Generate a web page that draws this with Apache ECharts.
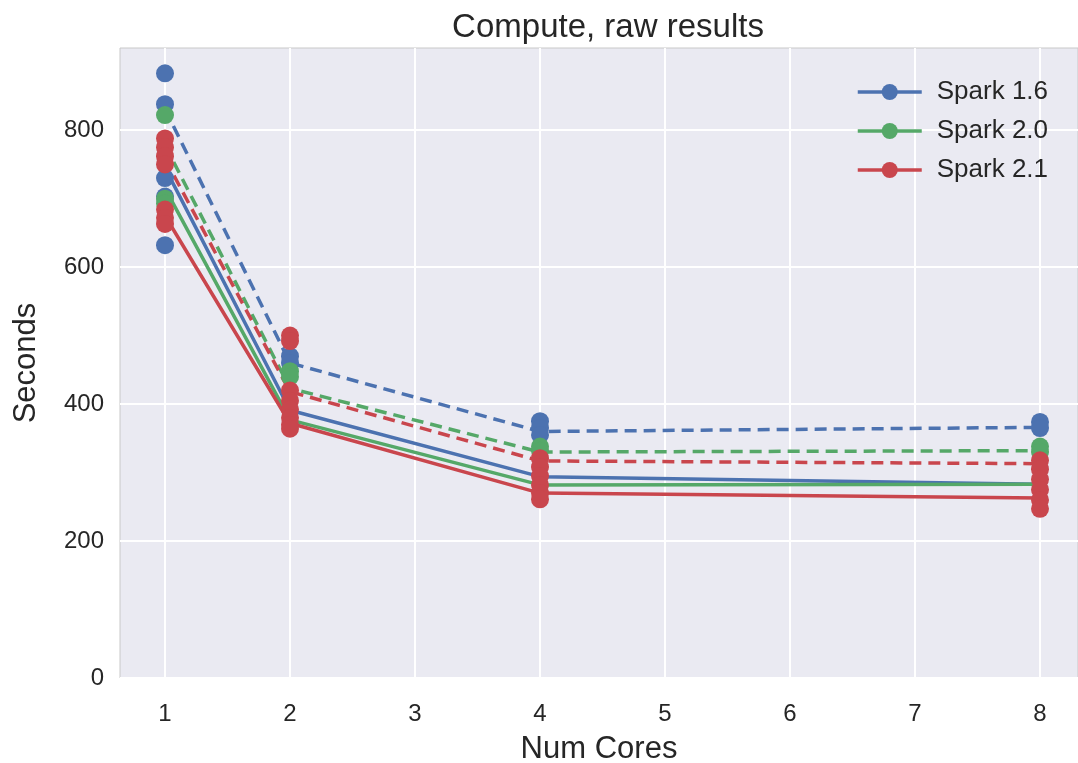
<!DOCTYPE html>
<html>
<head>
<meta charset="utf-8">
<script src="https://cdn.jsdelivr.net/npm/echarts@6/dist/echarts.min.js"></script>
<style>
  html, body { margin: 0; padding: 0; background: #fff; }
  #main { width: 1078px; height: 763px; }
</style>
</head>
<body>
<div id="main"></div>
<script>
// 数据
var cores = [1, 2, 4, 8];
var versions = ['Spark 1.6', 'Spark 2.0', 'Spark 2.1'];
var colors = ['#4C72B0', '#55A868', '#C9464D'];
var xTicks = [1, 2, 3, 4, 5, 6, 7, 8];
var yTicks = [0, 200, 400, 600, 800];

// raw runs per core count
var runs16 = [[883, 838, 730, 703, 632], [470, 460], [375, 365, 355], [374, 365]];
var runs20 = [[822, 700, 693], [448, 440], [338, 332], [338, 330]];
var runs21 = [[788, 775, 762, 750, 684, 672, 663], [500, 492, 420, 405, 392, 380, 370, 364],
              [321, 308, 295, 282, 270, 261], [318, 305, 290, 275, 260, 247]];

// solid / dashed lines
var solid16 = [745, 391, 294, 283];
var solid20 = [715, 377, 282, 283];
var solid21 = [675, 372, 270, 263];
var dash16 = [831, 460, 360, 366];
var dash20 = [778, 423, 330, 332];
var dash21 = [758, 418, 317, 313];

var runs = [runs16, runs20, runs21];
var solids = [solid16, solid20, solid21];
var dashes = [dash16, dash20, dash21];

function pairs(vals) {
    var res = [];
    for (var i = 0; i < cores.length; i++) {
        res.push([cores[i], vals[i]]);
    }
    return res;
}

function points(r) {
    var res = [];
    for (var i = 0; i < cores.length; i++) {
        for (var j = 0; j < r[i].length; j++) {
            res.push([cores[i], r[i][j]]);
        }
    }
    return res;
}

var font = 'Liberation Sans, Arial, sans-serif';
var textColor = '#262626';

var series = [];
for (var k = 0; k < versions.length; k++) {
    series.push({
        name: versions[k],
        type: 'line',
        data: pairs(solids[k]),
        symbol: 'circle',
        showSymbol: false,
        color: colors[k],
        lineStyle: {width: 3.5, color: colors[k]},
        z: 2,
        silent: true
    });
    series.push({
        name: versions[k] + ' dashed',
        type: 'line',
        data: pairs(dashes[k]),
        symbol: 'none',
        color: colors[k],
        lineStyle: {width: 3.5, color: colors[k], type: [12, 7]},
        z: 2,
        silent: true
    });
}
for (var k = 0; k < versions.length; k++) {
    series.push({
        name: versions[k] + ' runs',
        type: 'scatter',
        data: points(runs[k]),
        symbol: 'circle',
        symbolSize: 18,
        itemStyle: {color: colors[k], opacity: 1},
        z: 3 + k,
        silent: true
    });
}

var chart = echarts.init(document.getElementById('main'));
var option = {
    animation: false,
    backgroundColor: '#ffffff',
    title: {
        text: 'Compute, raw results',
        left: 603,
        top: 6,
        textAlign: 'center',
        textStyle: {fontFamily: font, fontSize: 33, fontWeight: 'normal', color: textColor}
    },
    legend: {
        data: versions,
        orient: 'vertical',
        left: 851,
        top: 74,
        itemWidth: 64,
        itemHeight: 20,
        itemGap: 13,
        lineStyle: {width: 3.5},
        textStyle: {fontFamily: font, fontSize: 26, color: textColor, padding: [0, 0, 0, 10]}
    },
    grid: {
        left: 120,
        right: 0,
        top: 48,
        bottom: 85,
        outerBoundsMode: 'none',
        containLabel: false,
        show: true,
        backgroundColor: '#EAEAF2',
        borderColor: '#c8c8c8',
        borderWidth: 1
    },
    xAxis: {
        type: 'value',
        min: 0.64,
        max: 8.304,
        name: 'Num Cores',
        nameLocation: 'middle',
        nameGap: 56,
        nameTextStyle: {fontFamily: font, fontSize: 31, color: textColor},
        axisLine: {show: false},
        axisTick: {show: false, customValues: xTicks},
        axisLabel: {customValues: xTicks, fontFamily: font, fontSize: 24, color: textColor, margin: 24},
        splitLine: {show: true, lineStyle: {color: '#ffffff', width: 2}}
    },
    yAxis: {
        type: 'value',
        min: 0,
        max: 920,
        name: 'Seconds',
        nameLocation: 'middle',
        nameGap: 78,
        nameTextStyle: {fontFamily: font, fontSize: 31, color: textColor},
        axisLine: {show: false},
        axisTick: {show: false, customValues: yTicks},
        axisLabel: {customValues: yTicks, fontFamily: font, fontSize: 24, color: textColor, margin: 16},
        splitLine: {show: true, lineStyle: {color: '#ffffff', width: 2}}
    },
    series: series
};
chart.setOption(option);
</script>
</body>
</html>
